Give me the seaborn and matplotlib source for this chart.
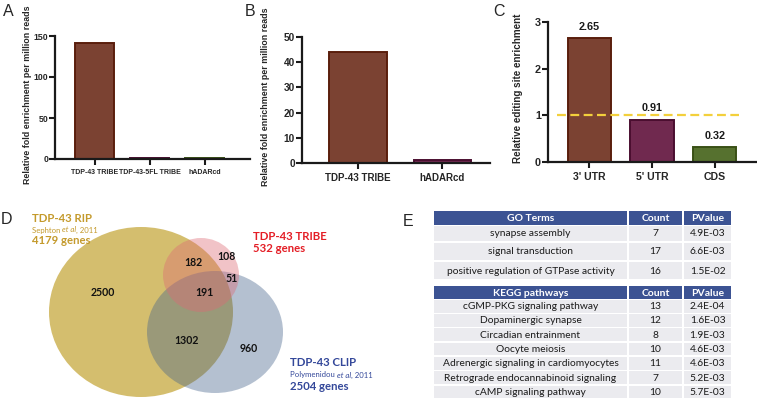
import matplotlib
matplotlib.use("Agg")
import matplotlib.pyplot as plt
import seaborn as sns
from matplotlib.patches import Ellipse, Rectangle

# ---------------- data ----------------
a_cats = ["TDP-43 TRIBE", "TDP-43-5FL TRIBE", "hADARcd"]
a_vals = [141, 1.0, 1.5]

b_cats = ["TDP-43 TRIBE", "hADARcd"]
b_vals = [44, 1.0]

c_cats = ["3' UTR", "5' UTR", "CDS"]
c_vals = [2.65, 0.91, 0.32]
c_labels = ["2.65", "0.91", "0.32"]

venn_names = ["TDP-43 RIP", "TDP-43 TRIBE", "TDP-43 CLIP"]
venn_refs = ["Sephton", "Polymenidou"]
venn_totals = [4179, 532, 2504]
venn_only_rip = 2500
venn_rip_tribe = 182
venn_only_tribe = 108
venn_tribe_clip = 51
venn_all = 191
venn_rip_clip = 1302
venn_only_clip = 960

go_terms = ["synapse assembly", "signal transduction",
            "positive regulation of GTPase activity"]
go_counts = [7, 17, 16]
go_pvalues = ["4.9E-03", "6.6E-03", "1.5E-02"]

kegg_terms = ["cGMP-PKG signaling pathway", "Dopaminergic synapse",
              "Circadian entrainment", "Oocyte meiosis",
              "Adrenergic signaling in cardiomyocytes",
              "Retrograde endocannabinoid signaling",
              "cAMP signaling pathway"]
kegg_counts = [13, 12, 8, 10, 11, 7, 10]
kegg_pvalues = ["2.4E-04", "1.6E-03", "1.9E-03", "4.6E-03", "4.6E-03",
                "5.2E-03", "5.7E-03"]

# ---------------- style ----------------
sns.set_style("ticks")
plt.rcParams['font.family'] = ['Liberation Sans', 'DejaVu Sans']

W, H = 757, 400
fig = plt.figure(figsize=(W / 100, H / 100), dpi=100)

BROWN, BROWN_E = "#7B4232", "#5A1E0C"
PURP, PURP_E = "#70294F", "#4A0E30"
GREEN, GREEN_E = "#56712F", "#3A5116"
SPINE = "#1a1a1a"


def px_axes(l, t, r, b):
    return fig.add_axes([l / W, 1 - b / H, (r - l) / W, (b - t) / H])


def bar_panel(ax, cats, vals, fills, edges, width, xlim, ylim, yticks,
              ytick_fs, xtick_fs):
    sns.barplot(x=cats, y=vals, hue=cats, palette=fills, legend=False,
                width=width, saturation=1, ax=ax)
    for p, ec in zip(ax.patches, edges):
        p.set_edgecolor(ec)
        p.set_linewidth(1.4)
    ax.set_xlim(*xlim)
    ax.set_ylim(*ylim)
    ax.set_yticks(yticks)
    ax.set_xlabel("")
    ax.set_ylabel("")
    for s in ["top", "right"]:
        ax.spines[s].set_visible(False)
    for s in ["left", "bottom"]:
        ax.spines[s].set_linewidth(1.6)
        ax.spines[s].set_color(SPINE)
    ax.tick_params(axis="y", direction="out", length=4, width=1.5,
                   labelsize=ytick_fs, pad=1, color=SPINE)
    ax.tick_params(axis="x", direction="out", length=4, width=1.5,
                   labelsize=xtick_fs, pad=3, color=SPINE)
    for lab in ax.get_yticklabels() + ax.get_xticklabels():
        lab.set_fontweight("bold")
    ax.patch.set_alpha(0)


# Panel A
axA = px_axes(55, 36, 250, 159)
bar_panel(axA, a_cats, a_vals, [BROWN, PURP, GREEN], [BROWN_E, PURP_E, GREEN_E],
          0.71, (-0.727, 2.82), (0, 150), [0, 50, 100, 150], 6.3, 5)
fig.text(28 / W, 1 - 95 / H, "Relative fold enrichment per million reads",
         rotation=90, ha="center", va="center", fontsize=6.4, fontweight="bold")

# Panel B
axB = px_axes(302, 37, 490, 163)
bar_panel(axB, b_cats, b_vals, [BROWN, PURP], [BROWN_E, PURP_E],
          0.68, (-0.667, 1.57), (0, 50), [0, 10, 20, 30, 40, 50], 7.3, 7)
fig.text(266 / W, 1 - 97 / H, "Relative fold enrichment per million reads",
         rotation=90, ha="center", va="center", fontsize=6.4, fontweight="bold")

# Panel C
axC = px_axes(548, 22, 756, 162)
bar_panel(axC, c_cats, c_vals, [BROWN, PURP, GREEN], [BROWN_E, PURP_E, GREEN_E],
          0.69, (-0.66, 2.66), (0, 3), [0, 1, 2, 3], 7.8, 7.6)
for i, (v, lab) in enumerate(zip(c_vals, c_labels)):
    axC.text(i, v + 0.13, lab, ha="center", va="bottom", fontsize=7.8,
             fontweight="bold", color="#1a1a1a")
axC.plot([-0.52, 2.39], [1, 1], ls=(0, (4, 2)), color="#F3D03C", lw=1.6,
         zorder=5)
fig.text(518 / W, 1 - 88 / H, "Relative editing site enrichment",
         rotation=90, ha="center", va="center", fontsize=7.1, fontweight="bold")

# Panel labels
for lab, x, y in [("A", 8, 12), ("B", 250, 12), ("C", 499, 12),
                  ("D", 6, 219), ("E", 408, 221)]:
    fig.text(x / W, 1 - y / H, lab, ha="center", va="center", fontsize=11.5)

# ---------------- Venn (D) + table (E) ----------------
ov = fig.add_axes([0, 0, 1, 1])
ov.set_xlim(0, W)
ov.set_ylim(H, 0)
ov.axis("off")
ov.patch.set_alpha(0)

ov.add_patch(Ellipse((141, 312), 184, 170, facecolor="#C6A83E", alpha=0.75,
                     edgecolor="none"))
ov.add_patch(Ellipse((215, 332), 136, 122, facecolor="#44628A", alpha=0.40,
                     edgecolor="none"))
ov.add_patch(Ellipse((201, 275), 76, 74, facecolor="#DE6975", alpha=0.40,
                     edgecolor="none"))

VF = ['Lato', 'DejaVu Sans']
num_kw = dict(ha="center", va="center", fontsize=7.6, fontweight="bold",
              family=VF, color="#111111")
for val, (x, y) in [(venn_only_rip, (103, 292)), (venn_rip_tribe, (193, 263)),
                    (venn_only_tribe, (226, 257)), (venn_tribe_clip, (232, 278)),
                    (venn_all, (204, 292)), (venn_rip_clip, (186, 341)),
                    (venn_only_clip, (249, 349))]:
    ov.text(x, y, f"{val}", **num_kw)

renderer = fig.canvas.get_renderer()


def cite(x, y, author, year, color):
    t1 = ov.text(x, y, author + " ", ha="left", va="center", fontsize=5.6,
                 family=VF, color=color)
    w1 = t1.get_window_extent(renderer).width
    t2 = ov.text(x + w1, y, "et al", ha="left", va="center", fontsize=5.6,
                 family=VF, style="italic", color=color)
    w2 = t2.get_window_extent(renderer).width
    ov.text(x + w1 + w2, y, ", " + year, ha="left", va="center", fontsize=5.6,
            family=VF, color=color)


RIPC, TRIC, CLIPC = "#C49A2C", "#E41E26", "#34489A"
tkw = dict(ha="left", va="center", fontsize=8.2, fontweight="bold", family=VF)
ov.text(32, 219, venn_names[0], color=RIPC, **tkw)
cite(32, 230, venn_refs[0], "2011", RIPC)
ov.text(32, 241, f"{venn_totals[0]} genes", color=RIPC, **tkw)

ov.text(253, 236, venn_names[1], color=TRIC, **tkw)
ov.text(253, 249, f"{venn_totals[1]} genes", color=TRIC, **tkw)

ov.text(290, 363, venn_names[2], color=CLIPC, **tkw)
cite(290, 375, venn_refs[1], "2011", CLIPC)
ov.text(290, 387, f"{venn_totals[2]} genes", color=CLIPC, **tkw)

# table
HEAD = "#3C5393"
ROW = "#EBEBEF"
cols = [433, 628, 683, 732]
gap = 1.6


def cell(x0, x1, y0, y1, color):
    ov.add_patch(Rectangle((x0 + gap / 2, y0 + gap / 2), x1 - x0 - gap,
                           y1 - y0 - gap, facecolor=color, edgecolor="none"))


def table_block(header, terms, counts, pvals, y_head, rows_y):
    hy0, hy1 = y_head
    for j in range(3):
        cell(cols[j], cols[j + 1], hy0, hy1, HEAD)
    for j, txt in enumerate([header, "Count", "PValue"]):
        ov.text((cols[j] + cols[j + 1]) / 2, (hy0 + hy1) / 2 + 0.5, txt,
                ha="center", va="center", fontsize=7.5, fontweight="bold",
                color="white", family=VF)
    for (y0, y1), term, cnt, pv in zip(rows_y, terms, counts, pvals):
        for j in range(3):
            cell(cols[j], cols[j + 1], y0, y1, ROW)
        for j, txt in enumerate([term, str(cnt), pv]):
            ov.text((cols[j] + cols[j + 1]) / 2, (y0 + y1) / 2 + 0.5, txt,
                    ha="center", va="center", fontsize=7.4, color="#1a1a1a",
                    family=VF)


go_rows = [(225, 242), (242, 261), (261, 280)]
table_block("GO Terms", go_terms, go_counts, go_pvalues, (210, 226), go_rows)
kh = 14.3
kegg_rows = [(299 + i * kh, 299 + (i + 1) * kh) for i in range(len(kegg_terms))]
table_block("KEGG pathways", kegg_terms, kegg_counts, kegg_pvalues, (285, 300),
            kegg_rows)

fig.savefig("out.png", dpi=100)
